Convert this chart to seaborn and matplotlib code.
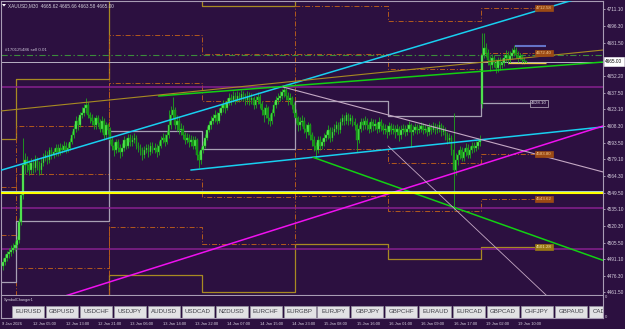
import numpy as np
import pandas as pd
import matplotlib
matplotlib.use("Agg")
import matplotlib.pyplot as plt
import matplotlib.transforms as mtransforms
from matplotlib.patches import Rectangle, Polygon
import seaborn as sns

# ---------------- data (XAUUSD M30) ----------------
opens = [4485, 4488, 4492, 4495, 4497, 4499, 4501, 4503, 4508, 4524,
         4547, 4574, 4578, 4574, 4569, 4576, 4571, 4578, 4573, 4569,
         4576, 4580, 4583, 4578, 4587, 4583, 4585, 4589, 4585, 4589,
         4587, 4591, 4587, 4589, 4594, 4600, 4606, 4613, 4609, 4618,
         4620, 4624, 4627, 4618, 4615, 4613, 4609, 4615, 4611, 4606,
         4613, 4600, 4609, 4605, 4596, 4591, 4587, 4594, 4589, 4585,
         4589, 4596, 4591, 4598, 4594, 4596, 4598, 4591, 4589, 4587,
         4583, 4587, 4589, 4585, 4591, 4587, 4589, 4585, 4591, 4596,
         4598, 4594, 4600, 4609, 4618, 4622, 4609, 4613, 4605, 4606,
         4600, 4596, 4598, 4594, 4596, 4591, 4596, 4583, 4578, 4587,
         4591, 4598, 4605, 4609, 4613, 4615, 4618, 4613, 4620, 4624,
         4627, 4624, 4629, 4633, 4631, 4635, 4631, 4635, 4633, 4636,
         4634, 4631, 4635, 4631, 4633, 4627, 4631, 4634, 4628, 4622,
         4618, 4624, 4615, 4613, 4620, 4627, 4631, 4633, 4635, 4638,
         4640, 4635, 4631, 4633, 4627, 4620, 4615, 4609, 4612, 4613,
         4606, 4603, 4609, 4600, 4596, 4591, 4587, 4596, 4591, 4594,
         4598, 4600, 4605, 4598, 4603, 4606, 4609, 4605, 4612, 4615,
         4613, 4618, 4613, 4615, 4612, 4609, 4596, 4606, 4612, 4609,
         4613, 4609, 4606, 4612, 4608, 4610, 4606, 4612, 4608, 4605,
         4606, 4603, 4608, 4605, 4606, 4603, 4606, 4600, 4605, 4606,
         4603, 4606, 4609, 4603, 4605, 4607, 4605, 4606, 4608, 4605,
         4606, 4603, 4607, 4605, 4608, 4605, 4606, 4609, 4603, 4605,
         4600, 4596, 4598, 4587, 4569, 4578, 4583, 4587, 4580, 4585,
         4589, 4583, 4587, 4591, 4589, 4591, 4594, 4628, 4671, 4677,
         4673, 4666, 4662, 4668, 4664, 4659, 4666, 4662, 4664, 4668,
         4671, 4666, 4670, 4673, 4675, 4671, 4668, 4670, 4666, 4665.62]
highs = [4492, 4495, 4498, 4501, 4503, 4505, 4507, 4511, 4527, 4551,
         4598, 4584, 4582, 4578, 4580, 4579, 4583, 4581, 4577, 4580,
         4584, 4587, 4586, 4590, 4590, 4589, 4592, 4592, 4593, 4592,
         4595, 4594, 4593, 4598, 4604, 4610, 4617, 4616, 4621, 4625,
         4628, 4633, 4629, 4621, 4619, 4616, 4618, 4618, 4614, 4617,
         4615, 4612, 4611, 4607, 4599, 4594, 4597, 4597, 4592, 4593,
         4599, 4598, 4601, 4601, 4600, 4602, 4600, 4594, 4592, 4590,
         4591, 4592, 4592, 4594, 4594, 4593, 4592, 4595, 4599, 4602,
         4601, 4604, 4622, 4626, 4634, 4625, 4618, 4616, 4611, 4609,
         4603, 4602, 4601, 4600, 4599, 4599, 4598, 4586, 4590, 4595,
         4601, 4608, 4613, 4617, 4619, 4622, 4621, 4624, 4628, 4631,
         4630, 4633, 4637, 4636, 4639, 4638, 4639, 4638, 4640, 4639,
         4637, 4639, 4638, 4637, 4635, 4635, 4638, 4636, 4630, 4625,
         4628, 4626, 4619, 4623, 4630, 4635, 4637, 4639, 4641, 4643,
         4642, 4638, 4637, 4635, 4629, 4623, 4617, 4616, 4618, 4616,
         4610, 4612, 4611, 4603, 4599, 4594, 4599, 4599, 4598, 4602,
         4604, 4609, 4607, 4607, 4610, 4613, 4612, 4615, 4619, 4618,
         4621, 4620, 4619, 4618, 4615, 4611, 4609, 4615, 4615, 4617,
         4615, 4612, 4615, 4614, 4614, 4612, 4616, 4614, 4611, 4610,
         4609, 4612, 4611, 4610, 4609, 4610, 4608, 4609, 4610, 4609,
         4610, 4613, 4611, 4609, 4611, 4610, 4610, 4612, 4611, 4610,
         4609, 4611, 4610, 4612, 4611, 4610, 4613, 4611, 4609, 4607,
         4603, 4602, 4600, 4620, 4584, 4587, 4591, 4590, 4589, 4593,
         4592, 4591, 4594, 4594, 4595, 4598, 4600, 4690, 4690, 4681,
         4676, 4670, 4672, 4671, 4667, 4669, 4669, 4668, 4672, 4675,
         4674, 4674, 4677, 4680, 4678, 4674, 4673, 4672, 4669, 4665.66]
lows = [4481, 4486, 4489, 4492, 4494, 4496, 4498, 4500, 4505, 4521,
        4544, 4566, 4568, 4565, 4566, 4567, 4568, 4569, 4565, 4566,
        4573, 4577, 4575, 4576, 4579, 4580, 4582, 4582, 4583, 4584,
        4585, 4584, 4585, 4587, 4592, 4598, 4603, 4605, 4607, 4615,
        4617, 4620, 4615, 4611, 4609, 4606, 4606, 4608, 4603, 4603,
        4596, 4597, 4601, 4592, 4587, 4582, 4584, 4585, 4580, 4582,
        4586, 4588, 4589, 4591, 4591, 4593, 4588, 4585, 4583, 4578,
        4580, 4584, 4581, 4583, 4584, 4584, 4581, 4583, 4589, 4593,
        4591, 4592, 4598, 4606, 4615, 4606, 4604, 4601, 4600, 4597,
        4592, 4593, 4590, 4591, 4588, 4588, 4578, 4571, 4575, 4584,
        4589, 4596, 4603, 4606, 4610, 4612, 4610, 4611, 4618, 4621,
        4620, 4622, 4627, 4627, 4629, 4628, 4629, 4629, 4630, 4630,
        4627, 4628, 4627, 4628, 4623, 4624, 4628, 4624, 4618, 4612,
        4615, 4610, 4608, 4610, 4617, 4624, 4628, 4630, 4632, 4634,
        4631, 4627, 4628, 4623, 4616, 4611, 4604, 4605, 4608, 4602,
        4598, 4600, 4596, 4591, 4586, 4580, 4584, 4587, 4588, 4591,
        4595, 4597, 4594, 4595, 4600, 4603, 4601, 4602, 4609, 4609,
        4610, 4609, 4610, 4608, 4605, 4585, 4593, 4603, 4605, 4606,
        4605, 4602, 4603, 4604, 4605, 4602, 4603, 4604, 4601, 4601,
        4598, 4600, 4601, 4601, 4598, 4600, 4595, 4597, 4601, 4599,
        4600, 4603, 4590, 4600, 4602, 4601, 4602, 4603, 4601, 4602,
        4599, 4600, 4601, 4603, 4601, 4602, 4603, 4599, 4600, 4596,
        4592, 4593, 4583, 4534, 4565, 4574, 4579, 4577, 4577, 4582,
        4580, 4580, 4584, 4585, 4586, 4588, 4591, 4624, 4668, 4669,
        4662, 4657, 4659, 4660, 4655, 4656, 4658, 4659, 4661, 4665,
        4663, 4664, 4667, 4670, 4668, 4665, 4666, 4663, 4663, 4663.58]
closes = [4488, 4492, 4495, 4497, 4499, 4501, 4503, 4508, 4524, 4547,
          4574, 4578, 4574, 4569, 4576, 4571, 4578, 4573, 4569, 4576,
          4580, 4583, 4578, 4587, 4583, 4585, 4589, 4585, 4589, 4587,
          4591, 4587, 4589, 4594, 4600, 4606, 4613, 4609, 4618, 4620,
          4624, 4627, 4618, 4615, 4613, 4609, 4615, 4611, 4606, 4613,
          4600, 4609, 4605, 4596, 4591, 4587, 4594, 4589, 4585, 4589,
          4596, 4591, 4598, 4594, 4596, 4598, 4591, 4589, 4587, 4583,
          4587, 4589, 4585, 4591, 4587, 4589, 4585, 4591, 4596, 4598,
          4594, 4600, 4609, 4618, 4622, 4609, 4613, 4605, 4606, 4600,
          4596, 4598, 4594, 4596, 4591, 4596, 4583, 4578, 4587, 4591,
          4598, 4605, 4609, 4613, 4615, 4618, 4613, 4620, 4624, 4627,
          4624, 4629, 4633, 4631, 4635, 4631, 4635, 4633, 4636, 4634,
          4631, 4635, 4631, 4633, 4627, 4631, 4634, 4628, 4622, 4618,
          4624, 4615, 4613, 4620, 4627, 4631, 4633, 4635, 4638, 4640,
          4635, 4631, 4633, 4627, 4620, 4615, 4609, 4612, 4613, 4606,
          4603, 4609, 4600, 4596, 4591, 4587, 4596, 4591, 4594, 4598,
          4600, 4605, 4598, 4603, 4606, 4609, 4605, 4612, 4615, 4613,
          4618, 4613, 4615, 4612, 4609, 4596, 4606, 4612, 4609, 4613,
          4609, 4606, 4612, 4608, 4610, 4606, 4612, 4608, 4605, 4606,
          4603, 4608, 4605, 4606, 4603, 4606, 4600, 4605, 4606, 4603,
          4606, 4609, 4603, 4605, 4607, 4605, 4606, 4608, 4605, 4606,
          4603, 4607, 4605, 4608, 4605, 4606, 4609, 4603, 4605, 4600,
          4596, 4598, 4587, 4569, 4578, 4583, 4587, 4580, 4585, 4589,
          4583, 4587, 4591, 4589, 4591, 4594, 4596, 4671, 4677, 4673,
          4666, 4662, 4668, 4664, 4659, 4666, 4662, 4664, 4668, 4671,
          4666, 4670, 4673, 4675, 4671, 4668, 4670, 4666, 4665.6, 4665.00]

# daily level indicator (one value per trading day)
day_start_bar = [-1, 6.5, 52.5, 98.5, 144.5, 190.5, 236.5]
day_end_bar = 263
gold_hi = [4596.8, 4649.7, 4729.5, 4714.0, 4756.0, 4742.8, 4754.92]
orange_hi2 = [4554.4, 4608.2, 4688.4, 4671.7, 4714.0, 4700.8, 4712.58]
orange_hi1 = [4512.1, 4565.9, 4645.7, 4630.3, 4671.7, 4658.9, 4672.40]
gray_mid = [4470.7, 4524.5, 4603.8, 4588.0, 4630.3, 4617.0, 4628.10]
orange_lo1 = [4428.8, 4483.0, 4561.5, 4545.6, 4588.0, 4575.2, 4583.80]
orange_lo2 = [4386.9, 4441.1, 4519.2, 4504.2, 4546.5, 4533.3, 4543.62]
gold_lo = [4345.0, 4399.2, 4476.9, 4461.9, 4504.2, 4491.4, 4501.28]

# trend lines: anchor (bar, price) pairs, drawn as rays to the right
trend_names = ["cyan_up", "cyan_low", "green_top", "gold_diag",
               "green_down", "magenta", "lav_a", "lav_b"]
trend_bar1 = [-1, 93, 77, -1.5, 153.5, 20, 138.6, 190.6]
trend_price1 = [4569.2, 4569.4, 4634.7, 4621.4, 4580.6, 4452.3, 4642.6, 4590.6]
trend_bar2 = [260, 260, 297, 297, 297, 297, 297, 268.3]
trend_price2 = [4707.5, 4600.5, 4664.6, 4675.2, 4489.8, 4608.2, 4567.7, 4460.1]
trend_colors = ["#18d0f0", "#18d0f0", "#12d012", "#a88a22",
                "#12d012", "#f010f0", "#c4a8c4", "#c4a8c4"]
trend_widths = [1.1, 1.1, 1.1, 0.8, 1.1, 1.1, 0.8, 0.6]

purple_levels = [4642.6, 4535.9, 4500.0]
yellow_level = 4549.5
cyan_level = 4551.0
bid_price = 4665.00
order_price = 4670.8
order_label = "#170125486 sell 0.01"
header = "XAUUSD,M30  4665.62 4665.66 4663.58 4665.00"

blue_seg_bars = [253.5, 268.8]
blue_seg_price = 4678.7
yellow_seg_bars = [250, 268.8]
yellow_seg_price = 4664.0

box_prices = [4712.58, 4672.40, 4628.10, 4583.80, 4543.62, 4501.28]
box_kinds = ["orange", "orange", "gray", "orange", "orange", "gold"]

ytick_vals = [4711.10, 4696.30, 4681.50, 4652.20, 4637.50, 4623.10, 4608.30,
              4593.50, 4579.10, 4564.30, 4549.50, 4535.10, 4520.30, 4505.50,
              4491.10, 4476.30, 4461.50]
xtick_bars = [-0.7, 15, 31, 47, 63, 79, 95, 111, 127, 143, 159, 175, 191,
              207, 223, 239, 255]
xtick_labels = ["9 Jan 2026", "12 Jan 05:00", "12 Jan 13:00", "12 Jan 21:00",
                "13 Jan 06:00", "13 Jan 14:00", "13 Jan 22:00", "14 Jan 07:00",
                "14 Jan 15:00", "14 Jan 23:00", "15 Jan 08:00", "15 Jan 16:00",
                "16 Jan 01:00", "16 Jan 09:00", "16 Jan 17:00", "19 Jan 02:00",
                "19 Jan 10:00"]
symbols = ["EURUSD", "GBPUSD", "USDCHF", "USDJPY", "AUDUSD", "USDCAD", "NZDUSD",
           "EURCHF", "EURGBP", "EURJPY", "GBPJPY", "GBPCHF", "EURAUD", "EURCAD",
           "GBPCAD", "CHFJPY", "GBPAUD", "CADJPY"]

# ---------------- style ----------------
W, H = 625, 329
BG = "#2c1040"
FRAME = "#a89cb4"
TXT = "#d8d0e0"
GOLD = "#a88a22"
ORANGE = "#b45a1c"
GRAYL = "#a8a0b4"
WICK = "#1ea81e"
BULL = "#5cf05c"
BEAR = "#148c14"

sns.set_theme(style="dark", rc={"axes.facecolor": BG, "figure.facecolor": BG,
                                "savefig.facecolor": BG})
plt.rcParams["font.family"] = ["Liberation Sans", "DejaVu Sans"]
plt.rcParams["lines.scale_dashes"] = False

fig = plt.figure(figsize=(W / 100, H / 100), dpi=100)


def fx(px):
    return px / W


def fy(py):
    return 1 - py / H


ax = fig.add_axes([fx(1.5), fy(295), (603 - 1.5) / W, (295 - 0.5) / H])
ax_sub = fig.add_axes([fx(1.5), fy(318), (603 - 1.5) / W, (318 - 295.5) / H], sharex=ax)
for a in (ax, ax_sub):
    a.set_facecolor(BG)
    a.grid(False)
    for s in a.spines.values():
        s.set_color(FRAME)
        s.set_linewidth(0.8)
ax_sub.spines["top"].set_visible(False)

XLIM = (-0.74, 297.0)
YLIM = (4459.23, 4718.86)

# ---------------- daily levels (steps) ----------------
step_x = day_start_bar + [day_end_bar]
DASHDOT = (0, (3.6, 1.4, 0.7, 1.4))
for vals, col, lw, ls in [(gold_hi, GOLD, 0.9, "-"), (gold_lo, GOLD, 0.9, "-"),
                          (orange_hi2, ORANGE, 0.7, DASHDOT), (orange_hi1, ORANGE, 0.7, DASHDOT),
                          (orange_lo1, ORANGE, 0.7, DASHDOT), (orange_lo2, ORANGE, 0.7, DASHDOT),
                          (gray_mid, GRAYL, 0.9, "-")]:
    df = pd.DataFrame({"bar": step_x, "price": vals + [vals[-1]]})
    sns.lineplot(data=df, x="bar", y="price", ax=ax, color=col, lw=lw,
                 drawstyle="steps-post", legend=False, errorbar=None, zorder=2)
    ax.lines[-1].set_linestyle(ls)

# ---------------- horizontals ----------------
for p in purple_levels:
    ax.axhline(p, color="#87208f", lw=1.1, zorder=2)
ax.axhline(bid_price, color="#b8b0c4", lw=0.7, zorder=2)
ax.axhline(order_price, color="#3c8c3c", lw=0.8, ls=(0, (4.5, 1.8, 1, 1.8)), zorder=2)

# ---------------- candles ----------------
o = np.array(opens, float)
c = np.array(closes, float)
h = np.array(highs, float)
l = np.array(lows, float)
idx = np.arange(len(c))
bull = c >= o
ax.vlines(idx, l, h, color=WICK, lw=0.6, zorder=3)
ax.bar(idx[bull], (c - o)[bull], bottom=o[bull], width=0.78, color=BULL,
       edgecolor=WICK, linewidth=0.3, zorder=4)
ax.bar(idx[~bull], (o - c)[~bull], bottom=c[~bull], width=0.78, color=BEAR,
       edgecolor=WICK, linewidth=0.3, zorder=4)

# ---------------- trend lines ----------------
for name, b1, p1, b2, p2, col, lw in zip(trend_names, trend_bar1, trend_price1,
                                          trend_bar2, trend_price2, trend_colors, trend_widths):
    slope = (p2 - p1) / (b2 - b1)
    xe = 305
    df = pd.DataFrame({"bar": [b1, xe], "price": [p1, p1 + slope * (xe - b1)]})
    sns.lineplot(data=df, x="bar", y="price", ax=ax, color=col, lw=lw,
                 legend=False, errorbar=None, zorder=5)

ax.axhline(cyan_level, color="#b8f4f0", lw=0.6, zorder=5)
ax.axhline(yellow_level, color="#ffff00", lw=1.5, zorder=5)
ax.hlines(blue_seg_price, *blue_seg_bars, color="#6472c8", lw=1.5, zorder=5)
ax.hlines(yellow_seg_price, *yellow_seg_bars, color="#e8d040", lw=0.9, zorder=5)

# ---------------- right-end level labels ----------------
box_style = {"orange": ("#9c4a14", "#f2c890", "#9c4a14"),
             "gold": ("#9a7814", "#f4e8b0", "#9a7814"),
             "gray": ("#2c1040", "#e0dce8", "#c0b8c8")}
for p, kind in zip(box_prices, box_kinds):
    fc, tc, ec = box_style[kind]
    xb = 261.5 if kind == "gray" else 264
    ax.text(xb, p, f"{p:.2f}", fontsize=3.2, color=tc, ha="left", va="center",
            zorder=6, bbox=dict(boxstyle="square,pad=0.25", fc=fc, ec=ec, lw=0.5))

# ---------------- axes ----------------
ax.set_xlim(*XLIM)
ax.set_ylim(*YLIM)
ax.set_xlabel("")
ax.set_ylabel("")
ax.yaxis.tick_right()
ax.set_yticks(ytick_vals)
ax.set_yticklabels([f"{v:.2f}" for v in ytick_vals])
ax.tick_params(axis="y", colors=TXT, labelsize=3.4, length=1.5, width=0.5,
               pad=1.5, direction="out", right=True, left=False)
ax.tick_params(axis="x", bottom=False, labelbottom=False)

# current price box
tr = mtransforms.blended_transform_factory(ax.transAxes, ax.transData)
ax.text(1.004, bid_price, f"{bid_price:.2f}", transform=tr, fontsize=3.4,
        color="black", ha="left", va="center", zorder=10, clip_on=False,
        bbox=dict(boxstyle="square,pad=0.35", fc="white", ec="white", lw=0.4))

# header and order label
fig.text(fx(8), fy(5.5), header, fontsize=3.4, color="#d4d0dc", ha="left", va="center")
fig.patches.append(Polygon([[fx(2), fy(4)], [fx(6), fy(4)], [fx(4), fy(6.5)]],
                           closed=True, transform=fig.transFigure, fc="white", ec="none"))
ax.text(1.0, order_price + 2.5, order_label, fontsize=3.2, color="#c8c0d4",
        ha="left", va="bottom", zorder=6)

# ---------------- SymbolChanger panel ----------------
ax_sub.set_ylim(0, 1)
ax_sub.set_yticks([])
ax_sub.set_xticks(xtick_bars)
ax_sub.set_xticklabels(xtick_labels, ha="left")
ax_sub.tick_params(axis="x", colors=TXT, labelsize=2.9, length=1.5, width=0.5,
                   pad=1.2, direction="out")
ax_sub.set_xlabel("")
ax_sub.set_ylabel("")
fig.text(fx(4), fy(300), "SymbolChanger1", fontsize=2.8, color="#d4d0dc",
         ha="left", va="center")
for k, sym in enumerate(symbols):
    x0 = 12 + 33.94 * k
    rect = Rectangle((fx(x0), fy(317.5)), 32 / W, 11.5 / H, transform=fig.transFigure,
                     fc="#e2e2e4", ec="#9c9aa4", lw=0.4)
    ax_sub.add_patch(rect)
    ax_sub.text(fx(x0 + 16), fy(311.8), sym, transform=fig.transFigure, fontsize=4.4,
                color="#404048", ha="center", va="center", clip_on=True)
fig.text(fx(605), fy(297.5), "0", fontsize=3.0, color=TXT, ha="left", va="center")
fig.text(fx(605), fy(316.5), "0", fontsize=3.0, color=TXT, ha="left", va="center")

fig.savefig("out.png", dpi=100, facecolor=BG)
